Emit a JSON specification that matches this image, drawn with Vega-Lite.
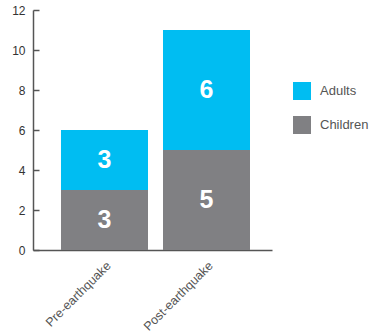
{
  "$schema": "https://vega.github.io/schema/vega-lite/v6.json",
  "autosize": {"type": "none"},
  "padding": {"left": 33, "top": 10, "right": 102, "bottom": 86},
  "width": 239,
  "height": 240,
  "background": "white",
  "config": {
    "view": {"stroke": null},
    "font": "Liberation Sans",
    "axisY": {
      "title": null,
      "values": [0, 2, 4, 6, 8, 10, 12],
      "labelOverlap": false,
      "grid": false,
      "tickSize": -6,
      "tickColor": "#555",
      "tickWidth": 1.5,
      "labelPadding": 14,
      "labelFontSize": 12,
      "labelColor": "#333",
      "domainColor": "#555",
      "domainWidth": 1.5
    }
  },
  "data": {
    "values": [
      {"period": "Pre-earthquake", "group": "Children", "count": 3, "order": 1},
      {"period": "Pre-earthquake", "group": "Adults", "count": 3, "order": 2},
      {"period": "Post-earthquake", "group": "Children", "count": 5, "order": 1},
      {"period": "Post-earthquake", "group": "Adults", "count": 6, "order": 2}
    ]
  },
  "transform": [
    {"stack": "count", "groupby": ["period"], "sort": [{"field": "order"}], "as": ["y0", "y1"]},
    {"calculate": "(datum.y0 + datum.y1) / 2", "as": "ymid"}
  ],
  "encoding": {
    "x": {
      "field": "period",
      "type": "nominal",
      "sort": ["Pre-earthquake", "Post-earthquake"],
      "scale": {"paddingInner": 0.147, "paddingOuter": 0.245, "align": 0.56},
      "axis": {
        "title": null,
        "labelAngle": -45,
        "labelFontSize": 12.5,
        "labelColor": "#555",
        "ticks": false,
        "labelPadding": 9,
        "domainColor": "#555",
        "domainWidth": 1.5
      }
    }
  },
  "layer": [
    {
      "mark": {"type": "bar"},
      "encoding": {
        "y": {
          "field": "y0",
          "type": "quantitative",
          "scale": {"domain": [0, 12]},
          "axis": {"values": [0, 2, 4, 6, 8, 10, 12], "labelOverlap": false}
        },
        "y2": {"field": "y1"},
        "color": {
          "field": "group",
          "type": "nominal",
          "sort": ["Adults", "Children"],
          "scale": {"domain": ["Adults", "Children"], "range": ["#00BDF2", "#808083"]},
          "legend": {
            "title": null,
            "orient": "none",
            "legendX": 260,
            "legendY": 72,
            "symbolType": "square",
            "symbolSize": 324,
            "symbolStrokeWidth": 0,
            "symbolOpacity": 1,
            "rowPadding": 16,
            "labelFontSize": 13,
            "labelColor": "#555",
            "labelOffset": 9
          }
        }
      }
    },
    {
      "mark": {"type": "text", "color": "white", "fontSize": 25, "fontWeight": "bold", "baseline": "middle"},
      "encoding": {
        "y": {"field": "ymid", "type": "quantitative", "axis": {"values": [0, 2, 4, 6, 8, 10, 12], "labelOverlap": false}},
        "text": {"field": "count", "type": "quantitative"}
      }
    }
  ]
}
